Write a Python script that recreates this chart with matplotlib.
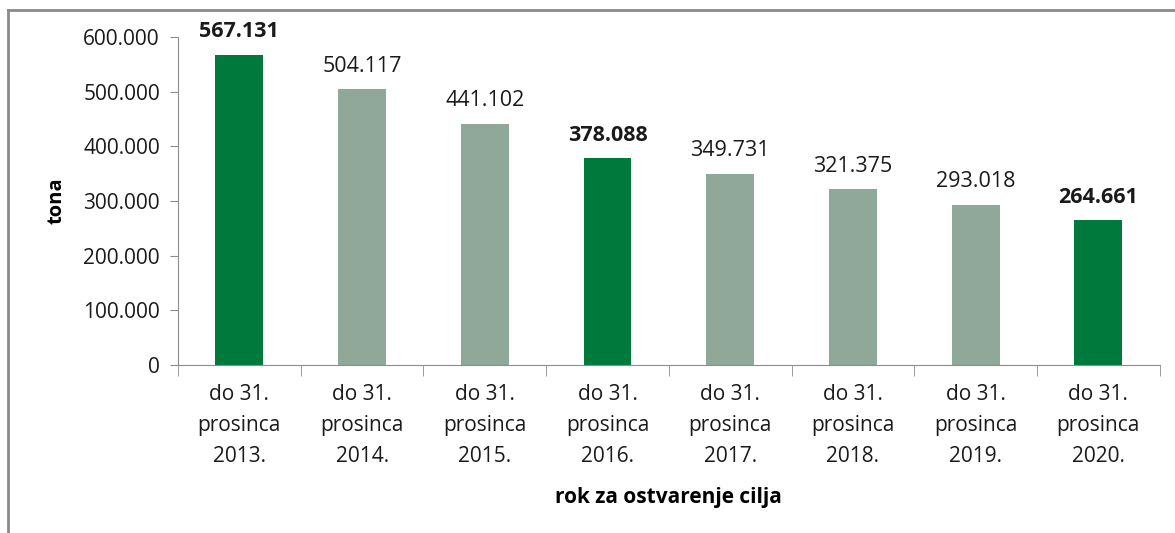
import matplotlib.pyplot as plt
from matplotlib.lines import Line2D
import numpy as np

rokovi = ["do 31.\nprosinca\n2013.", "do 31.\nprosinca\n2014.", "do 31.\nprosinca\n2015.",
          "do 31.\nprosinca\n2016.", "do 31.\nprosinca\n2017.", "do 31.\nprosinca\n2018.",
          "do 31.\nprosinca\n2019.", "do 31.\nprosinca\n2020."]
tone = [567131, 504117, 441102, 378088, 349731, 321375, 293018, 264661]
oznake = ["567.131", "504.117", "441.102", "378.088", "349.731", "321.375", "293.018", "264.661"]
istaknuto = [True, False, False, True, False, False, False, True]

plt.rcParams["font.family"] = ["Open Sans", "DejaVu Sans"]

zelena = "#007a3c"
siva = "#8fa899"
os_boja = "#8c8c8c"

fig = plt.figure(figsize=(11.75, 5.33), dpi=100)
ax = fig.add_axes([0.1515, 0.3152, 0.8355, 0.6154])

x = np.arange(len(tone))
boje = [zelena if b else siva for b in istaknuto]
ax.bar(x, tone, width=0.39, color=boje)

for xi, v, t, b in zip(x, tone, oznake, istaknuto):
    ax.annotate(t, (xi, v), xytext=(0, 9), textcoords="offset points",
                ha="center", va="bottom", fontsize=15.5,
                fontweight="bold" if b else "normal", color="#1a1a1a")

ax.set_xlim(-0.5, len(tone) - 0.5)
ax.set_ylim(0, 600000)
ax.set_yticks(np.arange(0, 600001, 100000))
ax.set_yticklabels(["0"] + [f"{v // 1000}.000" for v in range(100000, 600001, 100000)])
ax.set_xticks(x)
ax.set_xticklabels(rokovi, linespacing=1.62)
ax.set_xticks(np.arange(-0.5, len(tone)), minor=True)

ax.tick_params(axis="y", direction="out", length=6, color=os_boja, labelsize=15,
               labelcolor="#1a1a1a", pad=7)
ax.tick_params(axis="x", which="major", length=0, labelsize=15, labelcolor="#1a1a1a", pad=14)
ax.tick_params(axis="x", which="minor", direction="out", length=8, color=os_boja)

for s in ["top", "right"]:
    ax.spines[s].set_visible(False)
for s in ["left", "bottom"]:
    ax.spines[s].set_color(os_boja)

ax.set_ylabel("tona", fontsize=14.5, fontweight="bold", labelpad=12)
ax.set_xlabel("rok za ostvarenje cilja", fontsize=15, fontweight="bold", labelpad=14)

# okvir grafikona (vidljivi gornji i lijevi rub)
fig.add_artist(Line2D([0.0072, 1.0], [0.981, 0.981], color="#8a8a8a", lw=2, transform=fig.transFigure))
fig.add_artist(Line2D([0.0072, 0.0072], [0.0, 0.981], color="#8a8a8a", lw=2, transform=fig.transFigure))

fig.savefig("out.png", dpi=100)
